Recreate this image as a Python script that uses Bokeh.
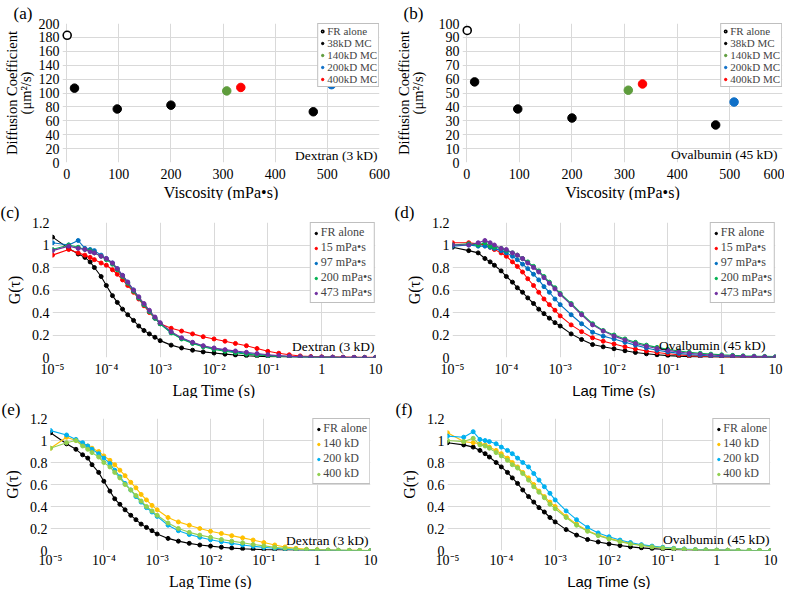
from bokeh.plotting import figure
from bokeh.models import (Range1d, FixedTicker, CustomJSTickFormatter, Label, Title,
                          Legend, LegendItem, ColumnDataSource, LinearAxis)
from bokeh.layouts import column, row
from bokeh.embed import file_html
from bokeh.resources import INLINE

# ---------------- data: panels (a), (b) ----------------
VISC_FR = [1]
VISC_38 = [15, 97, 200, 473]
VISC_140 = [307]
VISC_400 = [334]
VISC_200 = [508]

A_FR = [183]
A_38 = [107, 77, 82.5, 73]
A_140 = [103]
A_400 = [108]
A_200 = [112]

B_FR = [95]
B_38 = [58, 38.5, 32, 27]
B_140 = [52]
B_400 = [56.5]
B_200 = [43.5]

# ---------------- data: panels (c)-(f) ----------------
LAG = [1e-5, 2e-5, 3e-5, 4e-5, 5e-5, 6e-5, 8e-5,
       1e-4, 1.3e-4, 1.6e-4, 2e-4, 2.5e-4, 3.2e-4, 4e-4, 5e-4, 6.3e-4, 8e-4,
       1e-3, 1.6e-3, 2.5e-3, 4e-3, 6.3e-3,
       1e-2, 1.6e-2, 2.5e-2, 4e-2, 6.3e-2,
       0.1, 0.16, 0.25, 0.4, 0.63,
       1, 1.6, 2.5, 4, 6.3, 10]

C_FR = [1.07, 0.97, 0.92, 0.89, 0.85, 0.80, 0.72, 0.64, 0.55, 0.49, 0.43, 0.38, 0.33, 0.28, 0.24, 0.21, 0.18,
        0.15, 0.11, 0.085, 0.065, 0.05, 0.04, 0.03, 0.022, 0.016, 0.012, 0.008, 0.006, 0.004, 0.003, 0.002,
        0.001, 0.001, 0.0, 0.0, 0.0, 0.0]
C_15 = [0.91, 0.96, 0.93, 0.91, 0.89, 0.87, 0.84, 0.82, 0.78, 0.74, 0.69, 0.64, 0.58, 0.52, 0.46, 0.40, 0.35,
        0.30, 0.26, 0.235, 0.21, 0.185, 0.165, 0.145, 0.125, 0.105, 0.08, 0.055, 0.038, 0.024, 0.014, 0.009,
        0.006, 0.004, 0.003, 0.002, 0.002, 0.002]
C_97 = [1.02, 1.00, 1.04, 0.97, 0.96, 0.95, 0.91, 0.88, 0.84, 0.79, 0.73, 0.67, 0.60, 0.53, 0.47, 0.41, 0.35,
        0.30, 0.22, 0.17, 0.13, 0.10, 0.08, 0.063, 0.05, 0.038, 0.028, 0.02, 0.013, 0.008, 0.005, 0.003,
        0.002, 0.001, 0.0, 0.0, 0.0, 0.0]
C_200 = [0.96, 1.00, 0.98, 0.96, 0.95, 0.93, 0.90, 0.87, 0.83, 0.78, 0.72, 0.66, 0.59, 0.53, 0.47, 0.41, 0.35,
         0.30, 0.22, 0.165, 0.125, 0.095, 0.072, 0.055, 0.042, 0.03, 0.022, 0.015, 0.01, 0.006, 0.004, 0.002,
         0.001, 0.001, 0.0, 0.0, 0.0, 0.0]
C_473 = [0.95, 0.99, 0.97, 0.96, 0.94, 0.93, 0.90, 0.88, 0.84, 0.79, 0.73, 0.67, 0.60, 0.54, 0.48, 0.42, 0.36,
         0.31, 0.23, 0.175, 0.135, 0.105, 0.085, 0.07, 0.058, 0.046, 0.035, 0.025, 0.017, 0.011, 0.007, 0.004,
         0.003, 0.002, 0.001, 0.001, 0.0, 0.0]

D_FR = [0.98, 0.95, 0.93, 0.88, 0.85, 0.82, 0.77, 0.72, 0.67, 0.62, 0.58, 0.53, 0.48, 0.43, 0.39, 0.35, 0.31,
        0.28, 0.21, 0.16, 0.115, 0.095, 0.078, 0.06, 0.045, 0.033, 0.024, 0.017, 0.012, 0.008, 0.005, 0.004,
        0.003, 0.002, 0.001, 0.0, 0.0, 0.0]
D_15 = [1.02, 1.02, 1.01, 1.00, 0.98, 0.96, 0.93, 0.90, 0.85, 0.81, 0.76, 0.70, 0.64, 0.58, 0.52, 0.47, 0.42,
        0.37, 0.29, 0.23, 0.175, 0.145, 0.12, 0.095, 0.075, 0.058, 0.044, 0.033, 0.024, 0.017, 0.012, 0.008,
        0.005, 0.003, 0.002, 0.001, 0.0, 0.0]
D_97 = [0.99, 1.00, 0.99, 0.99, 0.98, 0.97, 0.95, 0.93, 0.90, 0.87, 0.83, 0.79, 0.74, 0.69, 0.63, 0.58, 0.52,
        0.47, 0.38, 0.30, 0.225, 0.19, 0.165, 0.135, 0.11, 0.085, 0.065, 0.05, 0.037, 0.027, 0.019, 0.013,
        0.009, 0.006, 0.004, 0.003, 0.002, 0.001]
D_200 = [1.00, 1.01, 1.00, 1.02, 0.99, 0.98, 0.97, 0.95, 0.93, 0.91, 0.88, 0.85, 0.81, 0.77, 0.72, 0.67, 0.62,
         0.57, 0.48, 0.39, 0.30, 0.24, 0.20, 0.165, 0.135, 0.11, 0.09, 0.072, 0.058, 0.046, 0.037, 0.03,
         0.024, 0.019, 0.015, 0.012, 0.01, 0.008]
D_473 = [1.00, 1.00, 1.02, 1.04, 1.02, 1.00, 0.97, 0.96, 0.93, 0.91, 0.88, 0.84, 0.80, 0.76, 0.71, 0.66, 0.61,
         0.56, 0.47, 0.38, 0.29, 0.235, 0.19, 0.155, 0.125, 0.10, 0.08, 0.063, 0.049, 0.038, 0.029, 0.022,
         0.017, 0.013, 0.01, 0.008, 0.006, 0.005]

E_FR = [1.07, 0.97, 0.92, 0.87, 0.84, 0.78, 0.71, 0.63, 0.54, 0.47, 0.42, 0.37, 0.32, 0.28, 0.24, 0.21, 0.18,
        0.15, 0.11, 0.085, 0.065, 0.05, 0.04, 0.03, 0.022, 0.016, 0.012, 0.008, 0.006, 0.004, 0.003, 0.002,
        0.001, 0.001, 0.0, 0.0, 0.0, 0.0]
E_140 = [0.93, 1.03, 1.00, 0.97, 0.95, 0.93, 0.90, 0.86, 0.82, 0.78, 0.73, 0.68, 0.62, 0.57, 0.51, 0.46, 0.41,
         0.37, 0.30, 0.26, 0.23, 0.20, 0.175, 0.155, 0.135, 0.115, 0.095, 0.072, 0.05, 0.032, 0.02, 0.012,
         0.008, 0.005, 0.003, 0.002, 0.001, 0.0]
E_200 = [1.09, 1.05, 1.01, 0.98, 0.95, 0.92, 0.88, 0.84, 0.79, 0.73, 0.67, 0.61, 0.55, 0.49, 0.44, 0.39, 0.35,
         0.31, 0.23, 0.18, 0.145, 0.12, 0.098, 0.08, 0.065, 0.05, 0.038, 0.028, 0.02, 0.013, 0.008, 0.005,
         0.003, 0.002, 0.001, 0.0, 0.0, 0.0]
E_400 = [0.93, 0.98, 1.00, 0.95, 0.92, 0.89, 0.85, 0.80, 0.76, 0.71, 0.66, 0.60, 0.55, 0.50, 0.45, 0.40, 0.36,
         0.32, 0.25, 0.20, 0.165, 0.14, 0.12, 0.10, 0.085, 0.07, 0.055, 0.042, 0.03, 0.02, 0.012, 0.008,
         0.005, 0.003, 0.002, 0.001, 0.0, 0.0]

F_FR = [0.98, 0.96, 0.94, 0.91, 0.88, 0.85, 0.80, 0.76, 0.71, 0.66, 0.61, 0.55, 0.49, 0.44, 0.39, 0.35, 0.30,
        0.26, 0.19, 0.14, 0.10, 0.078, 0.06, 0.045, 0.033, 0.024, 0.017, 0.012, 0.008, 0.005, 0.003, 0.002,
        0.001, 0.001, 0.0, 0.0, 0.0, 0.0]
F_140 = [1.07, 0.99, 0.98, 0.97, 0.96, 0.94, 0.91, 0.88, 0.84, 0.80, 0.76, 0.71, 0.66, 0.60, 0.54, 0.49, 0.44,
         0.40, 0.31, 0.24, 0.18, 0.14, 0.11, 0.085, 0.065, 0.048, 0.035, 0.025, 0.018, 0.012, 0.008, 0.005,
         0.003, 0.002, 0.001, 0.0, 0.0, 0.0]
F_200 = [1.04, 1.03, 1.08, 1.01, 1.00, 0.99, 0.97, 0.94, 0.91, 0.88, 0.84, 0.80, 0.76, 0.70, 0.64, 0.58, 0.52,
         0.46, 0.36, 0.28, 0.21, 0.16, 0.125, 0.095, 0.072, 0.053, 0.04, 0.029, 0.02, 0.014, 0.009, 0.006,
         0.004, 0.002, 0.001, 0.0, 0.0, 0.0]
F_400 = [1.00, 0.99, 1.02, 0.96, 0.95, 0.93, 0.89, 0.86, 0.82, 0.78, 0.75, 0.70, 0.64, 0.58, 0.53, 0.48, 0.42,
         0.38, 0.30, 0.23, 0.175, 0.135, 0.105, 0.08, 0.06, 0.045, 0.033, 0.024, 0.017, 0.011, 0.007, 0.005,
         0.003, 0.002, 0.001, 0.0, 0.0, 0.0]

LOG_TICKS = [1e-5, 1e-4, 1e-3, 1e-2, 1e-1, 1, 10]
G_TICKS = [0, 0.2, 0.4, 0.6, 0.8, 1.0, 1.2]
VISC_TICKS = [0, 100, 200, 300, 400, 500, 600]

NAMES_VISC = ["FR alone", "15 mPa\u2022s", "97 mPa\u2022s", "200 mPa\u2022s", "473 mPa\u2022s"]
NAMES_MW = ["FR alone", "140 kD", "200 kD", "400 kD"]
NAMES_AB = ["FR alone", "38kD MC", "140kD MC", "200kD MC", "400kD MC"]

# ---------------- styling ----------------
SERIF = "Liberation Serif"
SANS = "Liberation Sans"
GRID = "#d9d9d9"
COL_VISC = ["#000000", "#ff0000", "#0070c0", "#00b050", "#7030a0"]
COL_MW = ["#000000", "#ffc000", "#00b0f0", "#92d050"]
COL_AB = {"38": "#000000", "140": "#5e9c3c", "200": "#0f70c8", "400": "#ff0000"}

SUP_JS = """
const e = Math.round(Math.log10(tick));
if (e === 0) return "1";
if (e === 1) return "10";
const sup = {"-": "\u207b", "0": "\u2070", "1": "\u00b9", "2": "\u00b2", "3": "\u00b3",
             "4": "\u2074", "5": "\u2075", "6": "\u2076", "7": "\u2077", "8": "\u2078", "9": "\u2079"};
return "10" + String(e).split("").map(c => sup[c]).join("");
"""


def make_fig(w, h, bl, br, x_type="linear", x_range=None, y_range=None):
    p = figure(width=w, height=h, x_axis_type=x_type, x_range=x_range, y_range=y_range,
               output_backend="svg", toolbar_location=None,
               min_border_left=bl, min_border_right=br, min_border_top=0, min_border_bottom=0)
    p.outline_line_color = None
    for ax in p.axis:
        ax.axis_line_color = None
        ax.major_tick_line_color = None
        ax.minor_tick_line_color = None
        ax.major_tick_out = 0
        ax.major_tick_in = 0
        ax.minor_tick_out = 0
        ax.minor_tick_in = 0
        ax.major_label_text_font = SERIF
        ax.major_label_text_font_size = "14px"
        ax.major_label_text_color = "#000000"
        ax.major_label_standoff = 3
        ax.axis_label_text_font = SERIF
        ax.axis_label_text_font_size = "16px"
        ax.axis_label_text_font_style = "normal"
        ax.axis_label_text_color = "#000000"
        ax.axis_label_standoff = 1
    p.grid.grid_line_color = GRID
    p.grid.grid_line_width = 1
    return p


def panel_tag(p, text, offset, standoff):
    p.add_layout(Title(text=text, align="left", offset=offset, standoff=standoff,
                       text_font=SERIF, text_font_size="17px", text_font_style="normal",
                       text_color="#000000"), "above")


def x_title(p, text, font, size):
    p.add_layout(Title(text=text, align="center", standoff=0,
                       text_font=font, text_font_size=size, text_font_style="normal",
                       text_color="#000000"), "below")


def note(p, text, x, y, xoff):
    p.add_layout(Label(x=x, y=y, x_offset=xoff, text=text, text_font=SERIF,
                       text_font_size="13.5px", text_align="right", text_baseline="middle",
                       text_color="#000000"))


def style_legend(leg, row_h, font, padding=2):
    leg.location = "top_right"
    leg.margin = 0
    leg.padding = padding
    leg.spacing = 0
    leg.label_standoff = 2
    leg.label_height = row_h
    leg.glyph_height = row_h
    leg.glyph_width = 6
    leg.label_text_font = SERIF
    leg.label_text_font_size = font
    leg.label_text_line_height = 1.0
    leg.border_line_color = "#808080"
    leg.border_line_width = 1
    leg.background_fill_color = "white"
    leg.background_fill_alpha = 1.0


def visc_panel(w, h, bl, br, ys, ymax, ystep, label_text, note_y, note_off, title_gap):
    fr, m38, m140, m200, m400 = ys
    p = make_fig(w, h, bl, br, x_range=Range1d(-8, 600), y_range=Range1d(0, ymax))
    p.xaxis.ticker = FixedTicker(ticks=VISC_TICKS)
    p.xgrid.ticker = FixedTicker(ticks=VISC_TICKS)
    yt = list(range(0, ymax + 1, ystep))
    p.yaxis.ticker = FixedTicker(ticks=yt)
    p.ygrid.ticker = FixedTicker(ticks=yt)
    p.xaxis.major_label_standoff = 6
    p.yaxis.axis_label = "(\u03bcm\u00b2/s)"
    p.yaxis.axis_label_text_font_size = "14.5px"
    p.yaxis.axis_label_standoff = title_gap
    outer = LinearAxis(axis_label="Diffusion Coefficient", ticker=FixedTicker(ticks=[]),
                       axis_line_color=None, major_tick_line_color=None, minor_tick_line_color=None,
                       major_tick_out=0, minor_tick_out=0, major_label_standoff=0,
                       axis_label_standoff=-5, axis_label_text_font=SERIF,
                       axis_label_text_font_size="14.5px", axis_label_text_font_style="normal",
                       axis_label_text_color="#000000")
    p.add_layout(outer, "left")
    r_fr = p.scatter(VISC_FR, fr, size=8, fill_color="white", line_color="black", line_width=1.6)
    r38 = p.scatter(VISC_38, m38, size=8.5, color=COL_AB["38"])
    r140 = p.scatter(VISC_140, m140, size=8.5, color=COL_AB["140"])
    r200 = p.scatter(VISC_200, m200, size=8.5, color=COL_AB["200"])
    r400 = p.scatter(VISC_400, m400, size=8.5, color=COL_AB["400"])
    for r in (r_fr, r38, r140, r200, r400):
        r.level = "overlay"
    leg = Legend(items=[LegendItem(label=n, renderers=[r]) for n, r in
                        zip(NAMES_AB, [r_fr, r38, r140, r200, r400])])
    style_legend(leg, 10, "11px", padding=1)
    leg.level = "guide"
    p.add_layout(leg)
    note(p, label_text, 600, note_y, note_off)
    x_title(p, "Viscosity (mPa\u2022s)", SERIF, "16px")
    return p


def lag_panel(w, h, bl, br, series, colors, names, note_text, note_y, note_off, xfont,
              tick_standoff):
    p = make_fig(w, h, bl, br, x_type="log",
                 x_range=Range1d(1e-5, 10), y_range=Range1d(0, 1.2))
    p.xaxis.ticker = FixedTicker(ticks=LOG_TICKS)
    p.xgrid.ticker = FixedTicker(ticks=LOG_TICKS)
    p.xaxis.formatter = CustomJSTickFormatter(code=SUP_JS)
    p.yaxis.ticker = FixedTicker(ticks=G_TICKS)
    p.ygrid.ticker = FixedTicker(ticks=G_TICKS)
    p.yaxis.formatter = CustomJSTickFormatter(code="return String(Number(tick.toFixed(1)));")
    p.xaxis.major_label_standoff = tick_standoff
    p.yaxis.axis_label = "G(\u03c4)"
    p.yaxis.axis_label_standoff = 6
    items = []
    for vals, c, n in zip(series, colors, names):
        src = ColumnDataSource(dict(t=LAG, g=vals))
        p.line("t", "g", source=src, line_color=c, line_width=1.1)
        r = p.scatter("t", "g", source=src, size=4, color=c)
        items.append(LegendItem(label=n, renderers=[r]))
    leg = Legend(items=items)
    style_legend(leg, 12, "12px")
    p.add_layout(leg)
    note(p, note_text, 10, note_y, note_off)
    x_title(p, "Lag Time (s)", xfont, "16px" if xfont == SERIF else "15px")
    return p


# ---------------- layout ----------------
W = 392
H1, H2, H3 = 200, 198, 191

pa = visc_panel(W, H1, 49, 13, (A_FR, A_38, A_140, A_200, A_400), 200, 20,
                "Dextran (3 kD)", 10.5, -2, 2)
pb = visc_panel(W, H1, 61, 2, (B_FR, B_38, B_140, B_200, B_400), 100, 10,
                "Ovalbumin (45 kD)", 5.6, -5, 10)

pc = lag_panel(W, H2, 52, 17, [C_FR, C_15, C_97, C_200, C_473], COL_VISC, NAMES_VISC,
               "Dextran (3 kD)", 0.10, -1, SERIF, 4)
pd = lag_panel(W, H2, 60, 9, [D_FR, D_15, D_97, D_200, D_473], COL_VISC, NAMES_VISC,
               "Ovalbumin (45 kD)", 0.11, -10, SANS, 4)
pe = lag_panel(W, H3, 49, 22, [E_FR, E_140, E_200, E_400], COL_MW, NAMES_MW,
               "Dextran (3 kD)", 0.09, -2, SERIF, 2)
pf = lag_panel(W, H3, 55, 14, [F_FR, F_140, F_200, F_400], COL_MW, NAMES_MW,
               "Ovalbumin (45 kD)", 0.10, -1, SANS, 2)

panel_tag(pa, "(a)", -49, 2)
panel_tag(pb, "(b)", -59, 2)
panel_tag(pc, "(c)", -52, 1)
panel_tag(pd, "(d)", -58, 1)
panel_tag(pe, "(e)", -49, -1)
panel_tag(pf, "(f)", -52, -1)

layout = column(row(pa, pb), row(pc, pd), row(pe, pf))
open("out.html", "w").write(file_html(layout, INLINE))
